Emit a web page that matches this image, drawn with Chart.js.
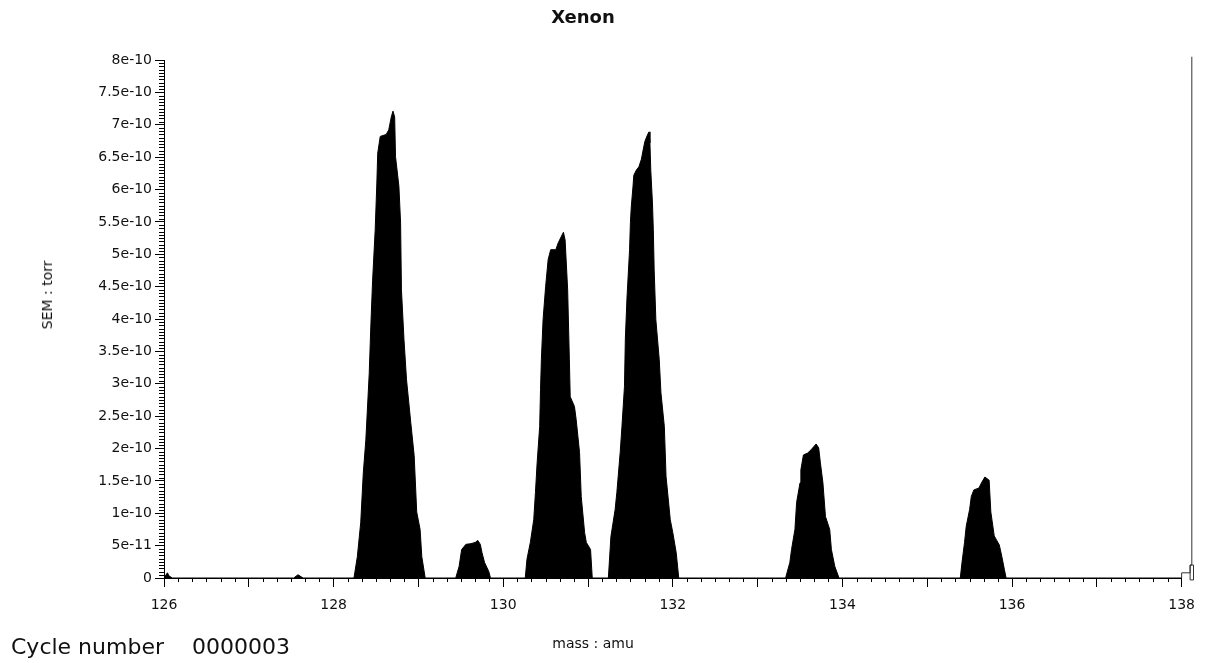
<!DOCTYPE html>
<html>
<head>
<meta charset="utf-8">
<title>Xenon</title>
<script src="https://cdn.jsdelivr.net/npm/chart.js@4.4.1/dist/chart.umd.min.js"></script>
<style>
  html, body { margin: 0; padding: 0; background: #fff; }
  #wrap { position: relative; width: 1205px; height: 663px; }
  #wrap canvas { position: absolute; left: 0; top: 0; }
  .lbl { position: absolute; font-family: "DejaVu Sans", sans-serif; color: #111; line-height: 1; white-space: nowrap; }
</style>
</head>
<body>
<div id="wrap">
  <canvas id="scanChart" width="1205" height="663"></canvas>
  <div class="lbl" style="left:583px; top:8px; font-size:18px; font-weight:bold; transform:translateX(-50%);">Xenon</div>
  <div class="lbl" style="left:47px; top:295px; font-size:14px; transform:translate(-50%,-50%) rotate(-90deg);">SEM : torr</div>
  <div class="lbl" style="left:593px; top:636px; font-size:14px; transform:translateX(-50%);">mass : amu</div>
  <div class="lbl" style="left:11px; top:636px; font-size:22px;">Cycle number</div>
  <div class="lbl" style="left:192px; top:636px; font-size:22px;">0000003</div>
</div>
<script>
// scan data: mass (amu) and SEM signal (units of 1e-10 torr)
const scanMass = [
  126.00, 126.04, 126.06, 126.10,
  127.53, 127.58, 127.64,
  // 128/129
  128.24, 128.28, 128.32, 128.35, 128.38, 128.42, 128.44, 128.46, 128.49, 128.51, 128.52, 128.55, 128.62, 128.65,
  128.68, 128.70, 128.72, 128.73, 128.77, 128.79, 128.80, 128.83, 128.86, 128.91, 128.95, 128.98, 129.02, 129.04, 129.08,
  129.44, 129.48, 129.51, 129.56, 129.62, 129.67, 129.70, 129.73, 129.75, 129.78, 129.83, 129.85,
  // 130/131
  130.26, 130.28, 130.32, 130.36, 130.38, 130.40, 130.43, 130.44, 130.45, 130.47, 130.50, 130.53, 130.56, 130.62,
  130.65, 130.71, 130.73, 130.76, 130.78, 130.79, 130.84, 130.86, 130.90, 130.92, 130.96, 130.98, 131.03, 131.05,
  // 131/132
  131.24, 131.27, 131.32, 131.34, 131.38, 131.40, 131.43, 131.44, 131.46, 131.49, 131.50, 131.51, 131.53, 131.54,
  131.57, 131.60, 131.63, 131.65, 131.67, 131.70, 131.72, 131.73, 131.74, 131.76, 131.77, 131.78, 131.80, 131.84,
  131.86, 131.90, 131.92, 131.97, 132.00, 132.04, 132.07,
  // 133/134
  133.33, 133.38, 133.40, 133.44, 133.46, 133.50, 133.51, 133.54, 133.59, 133.63, 133.69, 133.72, 133.74, 133.77,
  133.80, 133.85, 133.87, 133.91, 133.96,
  // 135/136
  135.39, 135.41, 135.44, 135.46, 135.50, 135.52, 135.55, 135.61, 135.64, 135.68, 135.73, 135.75, 135.79, 135.85,
  135.88, 135.91, 135.93,
  138.00
];
const scanSignal = [
  0, 0.08, 0.03, 0,
  0, 0.05, 0,
  0, 0.33, 0.86, 1.62, 2.13, 3.16, 3.93, 4.60, 5.37, 6.10, 6.56, 6.82, 6.85, 6.92,
  7.12, 7.21, 7.12, 6.51, 6.05, 5.48, 4.45, 3.68, 3.06, 2.40, 1.89, 1.02, 0.75, 0.33, 0,
  0, 0.18, 0.44, 0.52, 0.53, 0.55, 0.58, 0.52, 0.39, 0.24, 0.10, 0,
  0, 0.29, 0.55, 0.90, 1.32, 1.78, 2.34, 2.91, 3.37, 3.99, 4.50, 4.92, 5.07, 5.07,
  5.18, 5.34, 5.22, 4.45, 3.37, 2.80, 2.65, 2.45, 1.94, 1.26, 0.70, 0.55, 0.44, 0,
  0, 0.64, 1.06, 1.32, 1.95, 2.34, 2.96, 3.69, 4.34, 5.07, 5.49, 5.73, 6.04, 6.22,
  6.30, 6.35, 6.47, 6.61, 6.74, 6.84, 6.89, 6.72, 6.30, 5.79, 5.38, 4.76, 3.99, 3.37,
  2.86, 2.34, 1.57, 0.90, 0.70, 0.39, 0,
  0, 0.24, 0.44, 0.75, 1.17, 1.47, 1.67, 1.90, 1.93, 1.98, 2.07, 2.01, 1.78, 1.47,
  0.95, 0.75, 0.44, 0.18, 0,
  0, 0.24, 0.55, 0.80, 1.06, 1.26, 1.36, 1.39, 1.47, 1.56, 1.51, 1.02, 0.65, 0.51,
  0.33, 0.13, 0,
  0
];

// scan cursor at the right end
const cursorMass = [138.00, 138.00, 138.10, 138.10, 138.14, 138.14, 138.10, 138.10, 138.12, 138.12];
const cursorSignal = [0, 0.08, 0.08, 0.20, 0.20, -0.03, -0.03, 0.20, 0.20, 8.05];

// axis ticks
const xTickLabels = ['126', '', '128', '', '130', '', '132', '', '134', '', '136', '', '138'];
const xTickValues = [126, 127, 128, 129, 130, 131, 132, 133, 134, 135, 136, 137, 138];
const yTickLabels = ['0', '5e-11', '1e-10', '1.5e-10', '2e-10', '2.5e-10', '3e-10', '3.5e-10', '4e-10',
  '4.5e-10', '5e-10', '5.5e-10', '6e-10', '6.5e-10', '7e-10', '7.5e-10', '8e-10'];

const UNIT = 1e-10;
const tickFont = { family: 'DejaVu Sans', size: 14 };

// small ruler ticks between the labelled ones
const minorTicks = {
  id: 'minorTicks',
  afterDraw(chart) {
    const { ctx, chartArea, scales } = chart;
    const x = scales.x, y = scales.y;
    ctx.save();
    ctx.strokeStyle = '#000';
    ctx.lineWidth = 1;
    ctx.beginPath();
    for (let i = 1; i < 160; i++) {
      if (i % 10 === 0) continue;
      const py = Math.round(y.getPixelForValue(i * 5e-12)) + 0.5;
      ctx.moveTo(chartArea.left - 5, py);
      ctx.lineTo(chartArea.left, py);
    }
    for (let i = 1; i < 72; i++) {
      if (i % 6 === 0) continue;
      const px = Math.round(x.getPixelForValue(126 + i / 6)) + 0.5;
      ctx.moveTo(px, chartArea.bottom);
      ctx.lineTo(px, chartArea.bottom + 4);
    }
    ctx.stroke();
    ctx.restore();
  }
};

const ctx = document.getElementById('scanChart').getContext('2d');

new Chart(ctx, {
  type: 'line',
  data: {
    datasets: [{
      label: 'SEM',
      data: scanMass.map((m, i) => ({ x: m, y: scanSignal[i] * UNIT })),
      borderColor: '#000',
      backgroundColor: '#000',
      borderWidth: 1,
      fill: 'origin',
      pointRadius: 0,
      tension: 0
    }, {
      label: 'cursor',
      data: cursorMass.map((m, i) => ({ x: m, y: cursorSignal[i] * UNIT })),
      borderColor: '#333',
      borderWidth: 1,
      fill: false,
      pointRadius: 0,
      tension: 0,
      clip: false
    }]
  },
  options: {
    responsive: false,
    animation: false,
    layout: { padding: { left: 0, top: 60, right: 20, bottom: 0 } },
    plugins: {
      legend: { display: false },
      tooltip: { enabled: false },
      title: { display: false }
    },
    scales: {
      x: {
        type: 'linear',
        min: 126,
        max: 138,
        afterFit: scale => { scale.height = 85; },
        afterBuildTicks: scale => { scale.ticks = xTickValues.map(v => ({ value: v })); },
        grid: { drawOnChartArea: false, drawTicks: true, tickLength: 9, tickColor: '#000' },
        border: { color: '#000', width: 1 },
        ticks: {
          autoSkip: false,
          maxRotation: 0,
          padding: 10,
          color: '#111',
          font: tickFont,
          callback: (value, index) => xTickLabels[index]
        }
      },
      y: {
        min: 0,
        max: 8e-10,
        afterFit: scale => { scale.width = 164; },
        afterBuildTicks: scale => { scale.ticks = yTickLabels.map(t => ({ value: Number(t) })); },
        grid: { drawOnChartArea: false, drawTicks: true, tickLength: 9, tickColor: '#000' },
        border: { color: '#000', width: 1 },
        ticks: {
          autoSkip: false,
          padding: 3,
          color: '#111',
          font: tickFont,
          callback: (value, index) => yTickLabels[index]
        }
      }
    }
  },
  plugins: [minorTicks]
});
</script>
</body>
</html>
